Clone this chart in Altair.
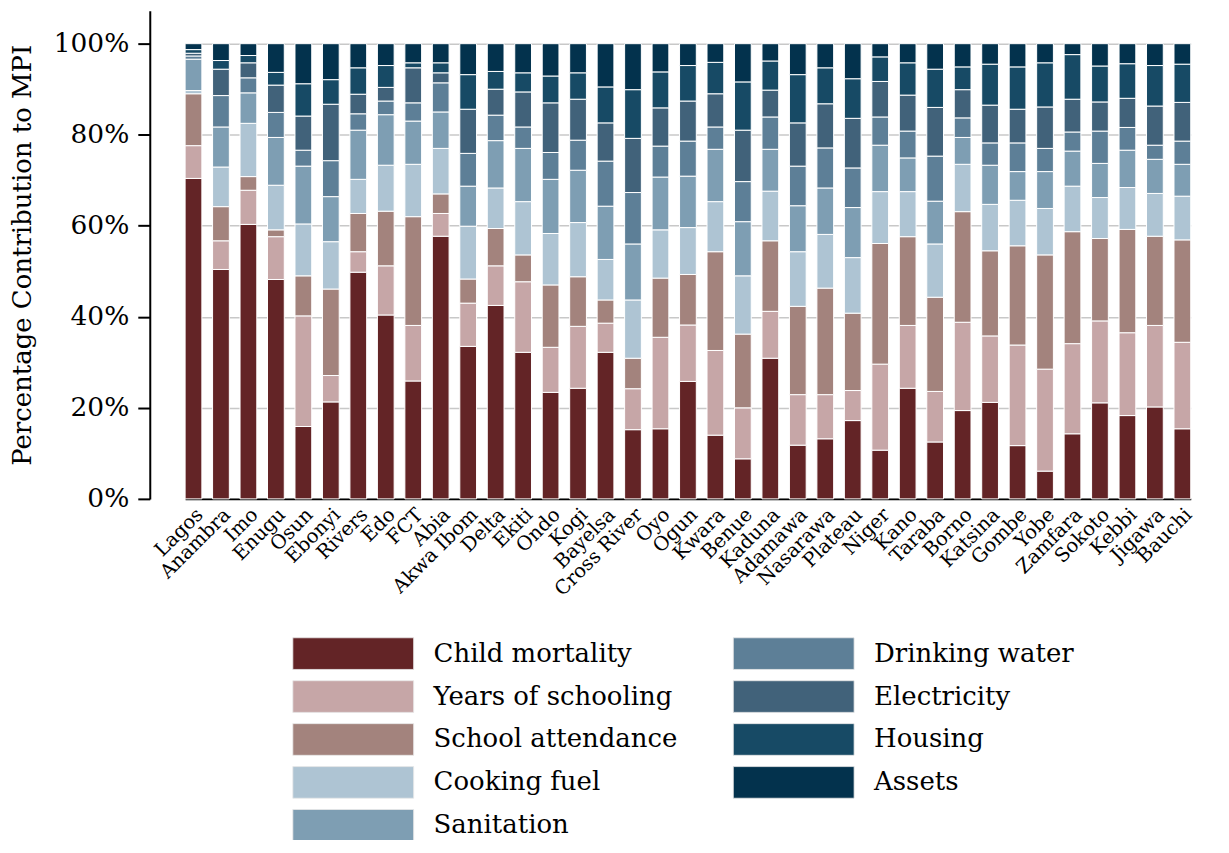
import altair as alt
import pandas as pd

FONT = "DejaVu Serif"

states = ["Lagos", "Anambra", "Imo", "Enugu", "Osun", "Ebonyi", "Rivers", "Edo", "FCT", "Abia",
          "Akwa Ibom", "Delta", "Ekiti", "Ondo", "Kogi", "Bayelsa", "Cross River", "Oyo", "Ogun",
          "Kwara", "Benue", "Kaduna", "Adamawa", "Nasarawa", "Plateau", "Niger", "Kano", "Taraba",
          "Borno", "Katsina", "Gombe", "Yobe", "Zamfara", "Sokoto", "Kebbi", "Jigawa", "Bauchi"]

indicators = ["Child mortality", "Years of schooling", "School attendance", "Cooking fuel",
              "Sanitation", "Drinking water", "Electricity", "Housing", "Assets"]
colors = ["#632426", "#C6A6A7", "#A3837D", "#AEC4D3", "#7E9EB3", "#5D7F97", "#41627A",
          "#174A65", "#03324D"]

child_mortality = [70.4, 50.4, 60.3, 48.2, 15.9, 21.3, 49.8, 40.4, 25.9, 57.7, 33.5, 42.5, 32.2,
                   23.4, 24.3, 32.2, 15.2, 15.4, 25.8, 14.0, 8.8, 30.9, 11.8, 13.2, 17.2, 10.7,
                   24.3, 12.5, 19.4, 21.2, 11.7, 6.1, 14.3, 21.1, 18.3, 20.2, 15.4]
years_of_schooling = [7.2, 6.3, 7.5, 9.4, 24.3, 5.8, 4.5, 10.8, 12.2, 5.0, 9.5, 8.7, 15.5, 9.9,
                      13.6, 6.4, 9.0, 20.1, 12.4, 18.6, 11.2, 10.3, 11.1, 9.7, 6.6, 18.9, 13.8,
                      11.1, 19.4, 14.6, 22.1, 22.4, 19.8, 18.0, 18.2, 17.9, 19.0]
school_attendance = [11.4, 7.5, 3.0, 1.5, 8.8, 19.0, 8.4, 12.0, 23.9, 4.3, 5.3, 8.2, 5.9, 13.7,
                     10.9, 5.1, 6.7, 13.0, 11.1, 21.7, 16.2, 15.5, 19.4, 23.4, 17.0, 26.5, 19.5,
                     20.7, 24.3, 18.7, 21.8, 25.1, 24.6, 18.1, 22.7, 19.6, 22.5]
cooking_fuel = [0.7, 8.7, 11.7, 9.8, 11.4, 10.4, 7.5, 10.1, 11.5, 10.0, 11.6, 8.9, 11.7, 11.3,
                11.9, 8.9, 12.8, 10.6, 10.3, 11.0, 12.8, 10.9, 12.0, 11.8, 12.2, 11.4, 9.9,
                11.7, 10.4, 10.2, 10.0, 10.2, 10.0, 9.0, 9.2, 9.4, 9.6]
sanitation = [6.9, 8.8, 6.7, 10.5, 12.7, 9.9, 10.8, 11.1, 9.5, 8.0, 8.8, 10.4, 11.7, 11.9, 11.5,
              11.7, 12.3, 11.6, 11.3, 11.5, 11.9, 9.2, 10.1, 10.2, 11.0, 10.2, 7.4, 9.4, 5.9,
              8.6, 6.3, 8.1, 7.7, 7.5, 8.2, 7.5, 7.0]
drinking_water = [0.7, 6.9, 3.3, 5.5, 3.5, 7.9, 3.6, 3.0, 4.0, 6.4, 7.2, 5.6, 4.7, 5.9, 6.6, 9.9,
                  11.3, 6.8, 7.7, 4.9, 8.8, 7.1, 8.7, 8.8, 8.7, 6.2, 5.9, 9.9, 4.3, 4.9, 6.3,
                  5.1, 4.2, 7.1, 5.0, 3.1, 5.1]
electricity = [0.6, 5.8, 3.3, 6.0, 7.5, 12.4, 4.3, 3.0, 7.7, 2.2, 9.7, 5.7, 7.7, 10.9, 9.0, 8.4,
               11.9, 8.4, 8.8, 7.3, 11.3, 5.9, 9.5, 9.7, 10.9, 7.8, 7.9, 10.7, 6.2, 8.3, 7.4,
               9.1, 7.2, 6.4, 6.4, 8.6, 8.5]
housing = [0.8, 1.9, 1.6, 2.8, 7.1, 5.4, 5.8, 4.8, 1.1, 2.2, 7.6, 3.9, 4.2, 5.9, 5.8, 7.9, 10.7,
           7.9, 7.8, 6.9, 10.6, 6.4, 10.6, 7.9, 8.7, 5.4, 7.1, 8.4, 5.0, 9.0, 9.3, 9.7, 9.8,
           7.9, 7.6, 8.9, 8.4]
assets = [1.3, 3.7, 2.6, 6.3, 8.8, 7.9, 5.3, 4.8, 4.2, 4.2, 6.8, 6.1, 6.4, 7.1, 6.4, 9.5, 10.1,
          6.2, 4.8, 4.1, 8.4, 3.8, 6.8, 5.3, 7.7, 2.9, 4.2, 5.6, 5.1, 4.5, 5.1, 4.2, 2.4, 4.9,
          4.4, 4.8, 4.5]

series = [child_mortality, years_of_schooling, school_attendance, cooking_fuel, sanitation,
          drinking_water, electricity, housing, assets]

rows = []
for k, (name, vals) in enumerate(zip(indicators, series)):
    for s, v in zip(states, vals):
        rows.append({"state": s, "indicator": name, "value": v, "idx": k})
df = pd.DataFrame(rows)

leg_df = pd.DataFrame({
    "indicator": indicators,
    "col": [i // 5 for i in range(len(indicators))],
    "row": [i % 5 for i in range(len(indicators))],
})

color_scale = alt.Scale(domain=indicators, range=colors)

bars = alt.Chart(df).mark_bar(stroke="white", strokeWidth=1).encode(
    x=alt.X("state:N", sort=states,
            scale=alt.Scale(paddingInner=0.39, paddingOuter=0, range=[35.4, 1042.7]),
            axis=alt.Axis(title=None, labelAngle=-45, labelAlign="right", labelBaseline="top",
                          labelFont=FONT, labelFontSize=19.5, labelColor="black", ticks=False,
                          domainColor="black", domainWidth=2, labelPadding=6, grid=False,
                          labelOverlap=False, labelBound=False)),
    y=alt.Y("value:Q", stack="normalize",
            scale=alt.Scale(domain=[0, 1.0725], nice=False, zero=True),
            axis=alt.Axis(title="Percentage Contribution to MPI", format=".0%",
                          values=[0, 0.2, 0.4, 0.6, 0.8, 1.0],
                          labelFont=FONT, labelFontSize=26.5, labelColor="black",
                          titleFont=FONT, titleFontSize=26, titleFontWeight="normal",
                          titleColor="black", titlePadding=18,
                          tickSize=12, tickWidth=2, tickColor="black",
                          domainColor="black", domainWidth=2, labelPadding=9,
                          grid=True, gridColor="#c8c8c8", gridWidth=1.5)),
    color=alt.Color("indicator:N", scale=color_scale, legend=None),
    order=alt.Order("idx:Q", sort="ascending"),
)

leg_x = alt.X("col:O", scale=alt.Scale(type="point", padding=0, range=[203.8, 645]), axis=None)
leg_y = alt.Y("row:O", scale=alt.Scale(type="point", padding=0, range=[644, 816]), axis=None)

leg_sw = alt.Chart(leg_df).mark_point(
    filled=True, shape="M-1,-0.262H1V0.262H-1Z", size=121 * 121, opacity=1,
    stroke="#e8e8e8", strokeWidth=0.8
).encode(x=leg_x, y=leg_y, fill=alt.Fill("indicator:N", scale=color_scale, legend=None))

leg_tx = alt.Chart(leg_df).mark_text(
    align="left", baseline="middle", dx=80.5, font=FONT, fontSize=26, color="black"
).encode(x=leg_x, y=leg_y, text="indicator:N")

chart = alt.layer(bars, leg_sw, leg_tx).resolve_scale(
    x="independent", y="independent"
).properties(
    width=1073, height=489,
    autosize=alt.AutoSizeParams(type="none"),
    padding={"left": 142, "top": 2, "right": 0, "bottom": 341},
    background="white",
).configure_view(stroke=None)

chart.save("out.html", embed_options={"renderer": "svg", "actions": False})
